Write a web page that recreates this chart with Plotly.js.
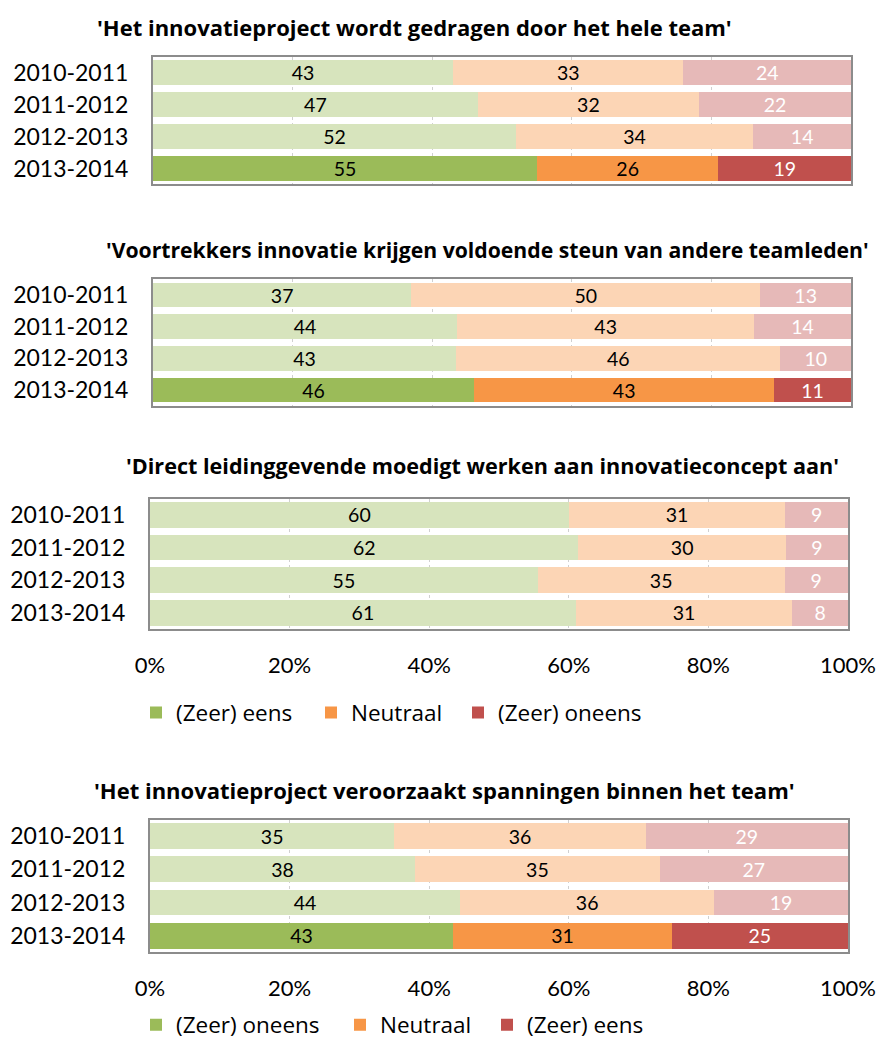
<!DOCTYPE html>
<html>
<head>
<meta charset="utf-8">
<script src="https://cdn.plot.ly/plotly-3.0.1.min.js"></script>
<style>html,body{margin:0;padding:0;background:#fff;}#chart{width:880px;height:1047px;}</style>
</head>
<body>
<div id="chart"></div>
<script>
const categories = ['2010-2011', '2011-2012', '2012-2013', '2013-2014'];

const titles = [
  "'Het innovatieproject wordt gedragen door het hele team'",
  "'Voortrekkers innovatie krijgen voldoende steun van andere teamleden'",
  "'Direct leidinggevende moedigt werken aan innovatieconcept aan'",
  "'Het innovatieproject veroorzaakt spanningen binnen het team'"
];

// panel 1
const p1First = [43, 47, 52, 55];
const p1Neutral = [33, 32, 34, 26];
const p1Last = [24, 22, 14, 19];
// panel 2
const p2First = [37, 44, 43, 46];
const p2Neutral = [50, 43, 46, 43];
const p2Last = [13, 14, 10, 11];
// panel 3
const p3First = [60, 62, 55, 61];
const p3Neutral = [31, 30, 35, 31];
const p3Last = [9, 9, 9, 8];
// panel 4
const p4First = [35, 38, 44, 43];
const p4Neutral = [36, 35, 36, 31];
const p4Last = [29, 27, 19, 25];

// which rows are highlighted (dark colours)
const p1Highlight = [false, false, false, true];
const p2Highlight = [false, false, false, true];
const p3Highlight = [false, false, false, false];
const p4Highlight = [false, false, false, true];

const legend1Labels = ['(Zeer) eens', 'Neutraal', '(Zeer) oneens'];
const legend2Labels = ['(Zeer) oneens', 'Neutraal', '(Zeer) eens'];

const darkColors = ['#9BBB59', '#F79646', '#C0504D'];
const lightColors = ['#D7E4BD', '#FCD5B5', '#E6B9B8'];
const textColors = ['#000000', '#000000', '#FFFFFF'];

const FONT = 'Lato, "Open Sans", sans-serif';
const TFONT = '"Open Sans", Lato, sans-serif';
const W = 880, H = 1047;

const panels = [
  {series: [p1First, p1Neutral, p1Last], hl: p1Highlight, box: [153, 851, 57, 185]},
  {series: [p2First, p2Neutral, p2Last], hl: p2Highlight, box: [153, 851, 280, 407]},
  {series: [p3First, p3Neutral, p3Last], hl: p3Highlight, box: [150, 848, 500, 631]},
  {series: [p4First, p4Neutral, p4Last], hl: p4Highlight, box: [150, 848, 822, 955]}
];

const data = [];
const layout = {
  width: W, height: H,
  margin: {l: 0, r: 0, t: 0, b: 0},
  paper_bgcolor: '#fff', plot_bgcolor: '#fff',
  barmode: 'stack', barnorm: 'percent', bargap: 0.22,
  font: {family: FONT, color: '#000'},
  annotations: [],
  showlegend: true
};

panels.forEach((p, i) => {
  const n = i + 1;
  const xa = n === 1 ? 'x' : 'x' + n;
  const ya = n === 1 ? 'y' : 'y' + n;
  p.series.forEach((vals, s) => {
    data.push({
      type: 'bar', orientation: 'h',
      x: vals, y: categories,
      xaxis: xa, yaxis: ya,
      text: vals.map(String),
      texttemplate: '%{text}',
      textposition: 'inside', insidetextanchor: 'middle',
      constraintext: 'none', textangle: 0,
      insidetextfont: {family: FONT, size: 19.5, color: textColors[s]},
      marker: {color: p.hl.map(h => h ? darkColors[s] : lightColors[s]), line: {width: 0}},
      showlegend: false, hoverinfo: 'skip'
    });
  });
  const [x0, x1, y0, y1] = p.box;
  const showX = (n >= 3);
  layout['xaxis' + (n === 1 ? '' : n)] = {
    domain: [x0 / W, x1 / W], anchor: ya,
    range: [0, 100], fixedrange: true,
    tickvals: [0, 20, 40, 60, 80, 100],
    ticktext: ['0%', '20%', '40%', '60%', '80%', '100%'],
    showticklabels: showX, ticks: '',
    ticklabelstandoff: 15,
    tickfont: {family: FONT, size: 22, color: '#000'},
    showgrid: true, gridcolor: '#d0d0d0', griddash: 'dot', gridwidth: 1,
    zeroline: false,
    showline: true, mirror: true, linecolor: '#8c8c8c', linewidth: 2
  };
  layout['yaxis' + (n === 1 ? '' : n)] = {
    domain: [1 - y1 / H, 1 - y0 / H], anchor: xa,
    type: 'category', autorange: 'reversed', fixedrange: true,
    ticks: '', ticklabelstandoff: 18,
    tickfont: {family: FONT, size: 23, color: '#000'},
    showgrid: false, zeroline: false,
    showline: true, mirror: true, linecolor: '#8c8c8c', linewidth: 2
  };
});

// legend entries: one legend box per entry, so each sits where the reference puts it
const legendSlots = [
  {labels: legend1Labels, axis: ['x3', 'y3'], left: [136, 311, 458], y: 715},
  {labels: legend2Labels, axis: ['x4', 'y4'], left: [136, 340, 487], y: 1028}
];
let legendIndex = 1;
legendSlots.forEach(slot => {
  slot.labels.forEach((name, s) => {
    const id = legendIndex === 1 ? 'legend' : 'legend' + legendIndex;
    data.push({type: 'bar', orientation: 'h', x: [0], y: [categories[0]],
      xaxis: slot.axis[0], yaxis: slot.axis[1],
      name: name, marker: {color: darkColors[s]}, showlegend: true, legend: id, hoverinfo: 'skip'});
    layout[id] = {
      orientation: 'h', xref: 'paper', yref: 'paper',
      x: slot.left[s] / W, xanchor: 'left', y: 1 - slot.y / H, yanchor: 'middle',
      font: {family: TFONT, size: 22.5, color: '#000'}, bgcolor: 'rgba(0,0,0,0)',
      itemwidth: 30, borderwidth: 0
    };
    legendIndex++;
  });
});

// titles
const titlePos = [
  {x: 414, y: 27, anchor: 'center', size: 22},
  {x: 104, y: 250, anchor: 'left', size: 21.2},
  {x: 482, y: 467, anchor: 'center', size: 21.6},
  {x: 444, y: 792, anchor: 'center', size: 22}
];
titles.forEach((t, i) => {
  layout.annotations.push({
    text: '<b>' + t + '</b>', xref: 'paper', yref: 'paper',
    x: titlePos[i].x / W, y: 1 - titlePos[i].y / H,
    xanchor: titlePos[i].anchor, yanchor: 'middle', showarrow: false,
    font: {family: TFONT, size: titlePos[i].size, color: '#000'}
  });
});

Plotly.newPlot('chart', data, layout, {staticPlot: true, displayModeBar: false});
</script>
</body>
</html>
